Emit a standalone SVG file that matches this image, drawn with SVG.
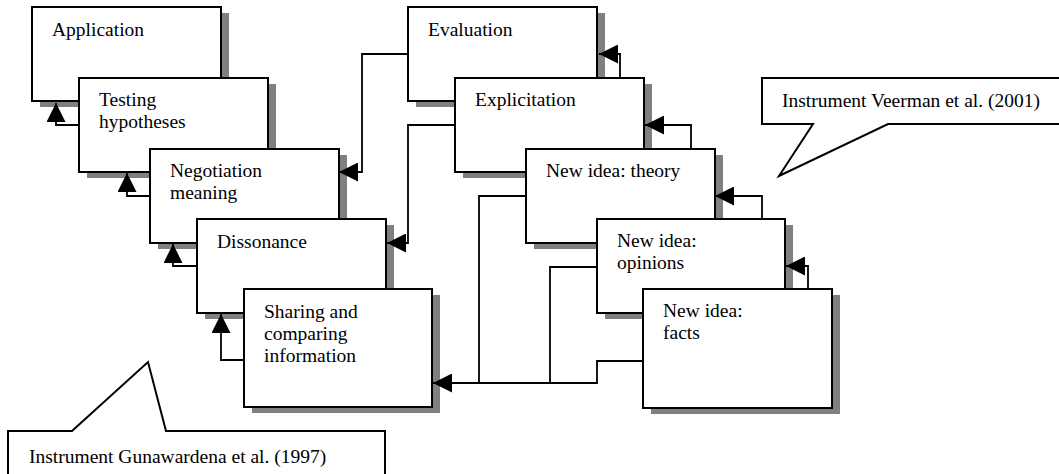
<svg xmlns="http://www.w3.org/2000/svg" width="1059" height="474" viewBox="0 0 1059 474">
<defs>
<style>
.sh{fill:#808080;stroke:none}
.bx{fill:#fff;stroke:#000;stroke-width:2}
.t{font-family:"Liberation Serif","Times New Roman",serif;font-size:19.5px;fill:#000}
.c{fill:none;stroke:#000;stroke-width:1.8}
.co{fill:#fff;stroke:#000;stroke-width:2;stroke-linejoin:miter}
</style>
<marker id="ah" viewBox="0 0 20 20" refX="20" refY="10" markerWidth="20" markerHeight="19" markerUnits="userSpaceOnUse" orient="auto">
<path d="M0,0 L20,10 L0,20 Z" fill="#000"/>
</marker>
</defs>
<rect width="1059" height="474" fill="#fff"/>

<g id="application"><rect class="sh" x="40" y="13" width="189" height="94"/><rect class="bx" x="32" y="7" width="189" height="94"/><text class="t" x="52" y="36">Application</text></g>
<g id="testing"><rect class="sh" x="87" y="84" width="189" height="94"/><rect class="bx" x="79" y="78" width="189" height="94"/><text class="t" x="99" y="106">Testing</text><text class="t" x="99" y="128">hypotheses</text></g>
<g id="negotiation"><rect class="sh" x="158" y="155" width="189" height="94"/><rect class="bx" x="150" y="149" width="189" height="94"/><text class="t" x="170" y="177">Negotiation</text><text class="t" x="170" y="199">meaning</text></g>
<g id="dissonance"><rect class="sh" x="205" y="225" width="189" height="94"/><rect class="bx" x="197" y="219" width="189" height="94"/><text class="t" x="217" y="248">Dissonance</text></g>
<g id="sharing"><rect class="sh" x="252" y="295" width="188" height="118"/><rect class="bx" x="244" y="289" width="188" height="118"/><text class="t" x="264" y="318">Sharing and</text><text class="t" x="264" y="340">comparing</text><text class="t" x="264" y="362">information</text></g>

<g id="evaluation"><rect class="sh" x="416" y="13" width="189" height="94"/><rect class="bx" x="408" y="7" width="189" height="94"/><text class="t" x="428" y="36">Evaluation</text></g>
<g id="explicitation"><rect class="sh" x="463" y="84" width="189" height="94"/><rect class="bx" x="455" y="78" width="189" height="94"/><text class="t" x="475" y="106">Explicitation</text></g>
<g id="theory"><rect class="sh" x="534" y="155" width="189" height="94"/><rect class="bx" x="526" y="149" width="189" height="94"/><text class="t" x="546" y="177">New idea: theory</text></g>
<g id="opinions"><rect class="sh" x="605" y="225" width="188" height="94"/><rect class="bx" x="597" y="219" width="188" height="94"/><text class="t" x="617" y="247">New idea:</text><text class="t" x="617" y="269">opinions</text></g>
<g id="facts"><rect class="sh" x="651" y="295" width="189" height="119"/><rect class="bx" x="643" y="289" width="189" height="119"/><text class="t" x="663" y="317">New idea:</text><text class="t" x="663" y="339">facts</text></g>

<g id="connectors">
<path class="c" d="M79,125 H56 V103" marker-end="url(#ah)"/>
<path class="c" d="M150,196 H127 V173" marker-end="url(#ah)"/>
<path class="c" d="M197,266 H173 V244" marker-end="url(#ah)"/>
<path class="c" d="M244,360 H221 V314" marker-end="url(#ah)"/>
<path class="c" d="M408,54 H362 V172 H339" marker-end="url(#ah)"/>
<path class="c" d="M455,125 H408 V243 H387" marker-end="url(#ah)"/>
<path class="c" d="M526,196 H479 V383 H433" marker-end="url(#ah)"/>
<path class="c" d="M597,267 H550 V383"/>
<path class="c" d="M643,361 H597 V383 H479"/>
<path class="c" d="M620,78 V54 H599" marker-end="url(#ah)"/>
<path class="c" d="M691,149 V125 H645" marker-end="url(#ah)"/>
<path class="c" d="M762,219 V196 H715" marker-end="url(#ah)"/>
<path class="c" d="M808,289 V266 H786" marker-end="url(#ah)"/>
</g>

<g id="callout-veerman"><path class="co" d="M762,78 H1070 V124 H888 L779,176 L813,124 H762 Z"/><text class="t" x="782" y="107">Instrument Veerman et al. (2001)</text></g>
<g id="callout-gunawardena"><path class="co" d="M8,431 H72 L148,362 L166,431 H385 V485 H8 Z"/><text class="t" x="29" y="463">Instrument Gunawardena et al. (1997)</text></g>
</svg>
